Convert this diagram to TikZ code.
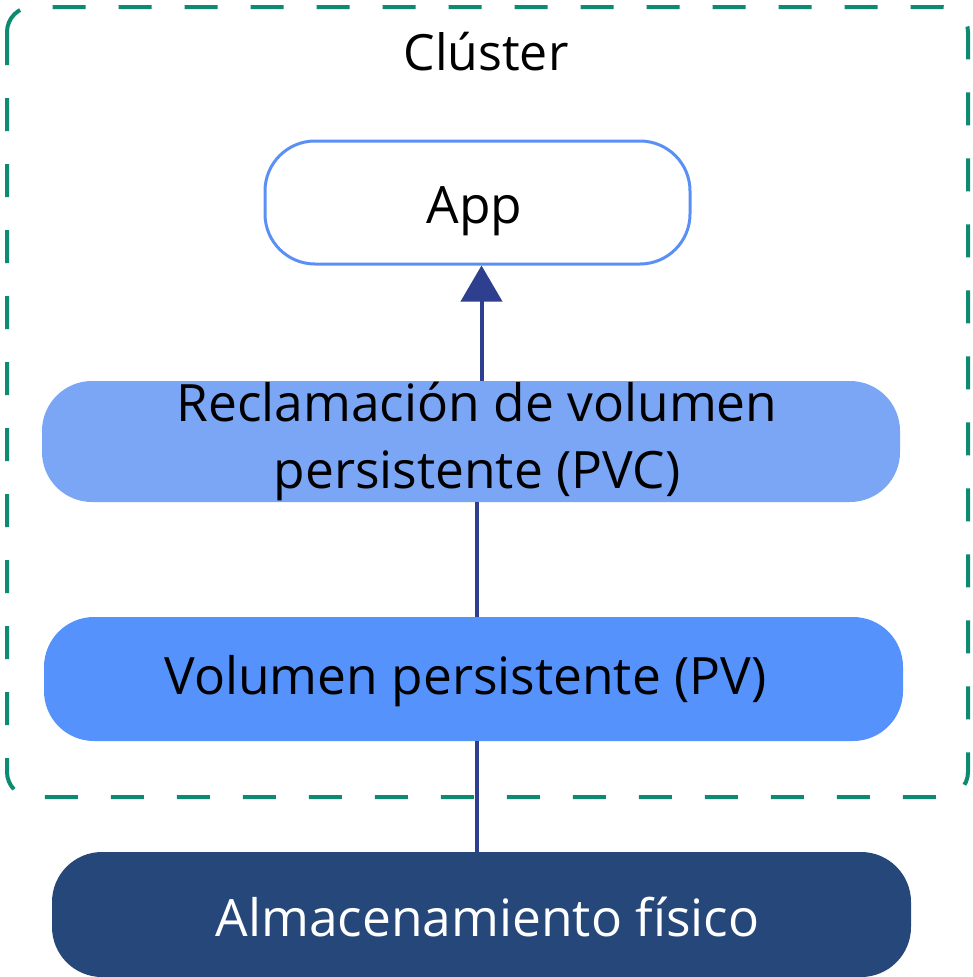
\documentclass[tikz,border=0pt]{standalone}
\usepackage{fontspec}
\setmainfont{Open Sans}
\usetikzlibrary{arrows.meta}
\definecolor{clustergreen}{HTML}{0E8A73}
\definecolor{appblue}{HTML}{5A90F5}
\definecolor{pvcblue}{HTML}{7BA6F6}
\definecolor{pvblue}{HTML}{5592FC}
\definecolor{storenavy}{HTML}{26477A}
\definecolor{linkblue}{HTML}{2E3F8F}
\tikzset{
 layer/.style={rectangle, rounded corners=50, inner sep=0, align=center, font=\fontsize{51.5}{67}\selectfont},
 link/.style={linkblue, line width=4},
}

\begin{document}
\begin{tikzpicture}[x=1pt,y=-1pt]
\useasboundingbox (0,0) rectangle (973,977);
\draw[clustergreen, line width=4, dash pattern=on 33 off 33, rounded corners=25] (7,7) rectangle (968,797);
\node[font=\fontsize{50}{60}\selectfont] (cluster) at (486,52) {Clúster};
\node[layer, draw=appblue, line width=3, fill=white, minimum width=425, minimum height=123] (app) at (477.5,202.5) {\raisebox{-9pt}[\height][\depth]{App}\hspace*{6pt}};
\node[layer, fill=pvcblue, minimum width=858, minimum height=121] (pvc) at (471,441.5) {\hspace*{12pt}Reclamación de volumen\\\hspace*{12pt}persistente (PVC)};
\node[layer, fill=pvblue, minimum width=859, minimum height=124] (pv) at (473.5,679) {\raisebox{-2pt}[\height][\depth]{Volumen persistente (PV)}\hspace*{16pt}};
\node[layer, fill=storenavy, text=white, minimum width=859, minimum height=125] (store) at (481.5,914.5) {\raisebox{-3pt}[\height][\depth]{Almacenamiento físico}\hspace*{-12pt}};
\draw[link, -{Triangle[width=41,length=36]}] ([xshift=10.5pt]pvc.north) -- ([xshift=4pt]app.south);
\draw[link] ([xshift=3.5pt]pv.north) -- ([xshift=6pt]pvc.south);
\draw[link] ([xshift=-4.5pt]store.north) -- ([xshift=3.5pt]pv.south);
\end{tikzpicture}
\end{document}
